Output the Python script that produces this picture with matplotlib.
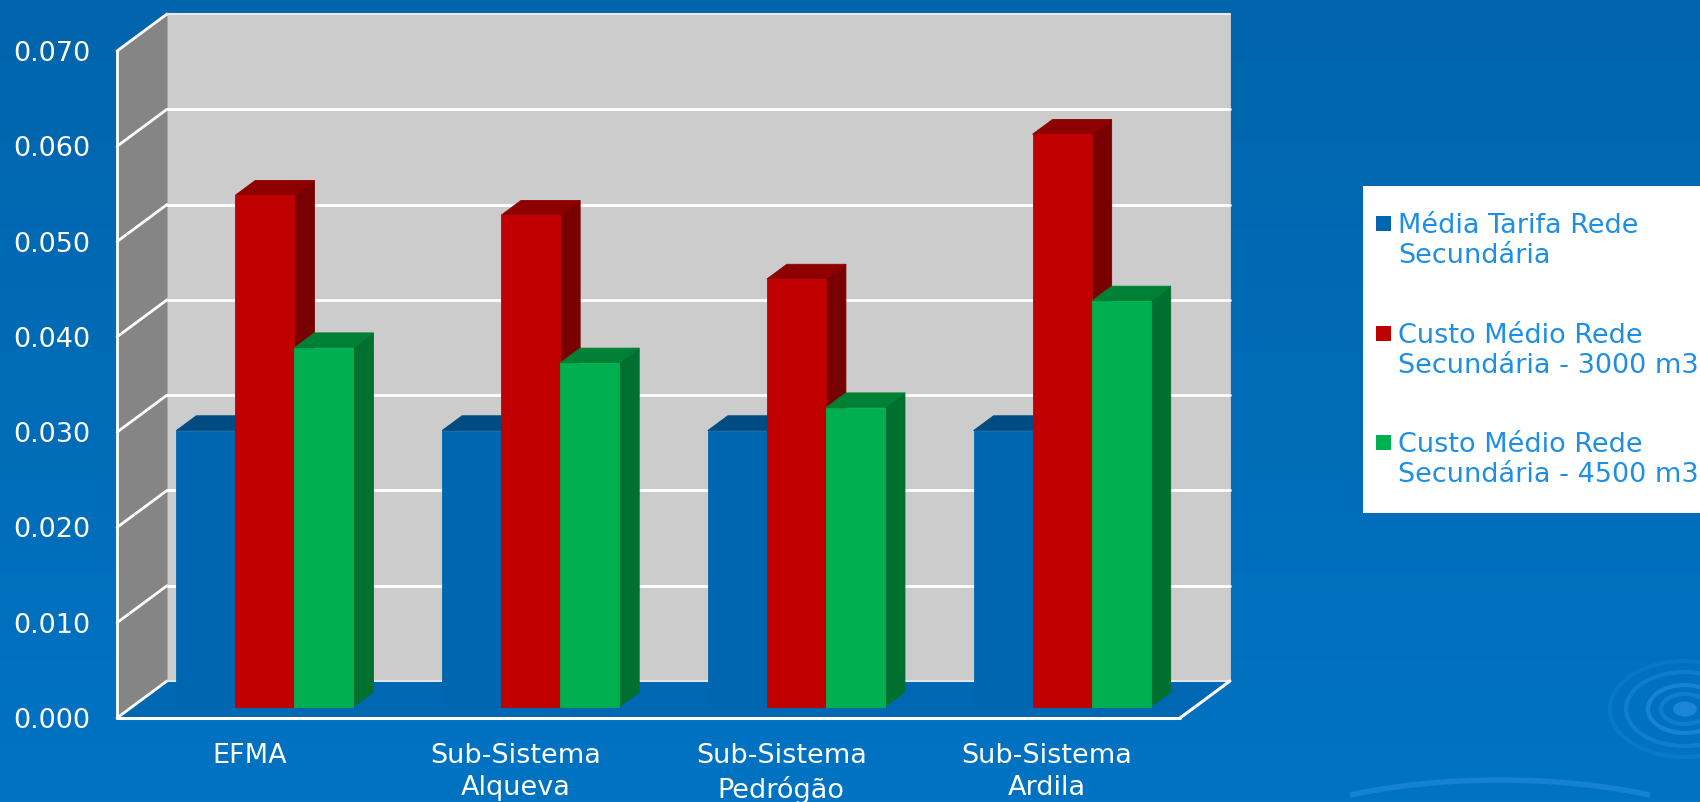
import numpy as np
import matplotlib
matplotlib.use("Agg")
import matplotlib.pyplot as plt
from matplotlib.patches import Rectangle, Polygon, Ellipse, Arc
from matplotlib.colors import LinearSegmentedColormap

# chart data
categories = ["EFMA", "Sub-Sistema\nAlqueva", "Sub-Sistema\nPedrógão", "Sub-Sistema\nArdila"]
series_names = ["Média Tarifa Rede\nSecundária",
                "Custo Médio Rede\nSecundária - 3000 m3",
                "Custo Médio Rede\nSecundária - 4500 m3"]
tarifa_media = [0.029, 0.029, 0.029, 0.029]
custo_3000 = [0.0537, 0.0516, 0.0449, 0.0601]
custo_4500 = [0.0377, 0.0361, 0.0314, 0.0426]
y_ticks = [0.0, 0.01, 0.02, 0.03, 0.04, 0.05, 0.06, 0.07]

series = [tarifa_media, custo_3000, custo_4500]
# front / top / side shades per series
shades = [("#0066B0", "#004C82", "#00457A"),
          ("#C00000", "#8E0000", "#780000"),
          ("#00B050", "#008034", "#007030")]

W, H = 1700, 802
FS = 19.5
fig = plt.figure(figsize=(W / 100, H / 100), dpi=100)

# blue slide background with a few ripples
bg = fig.add_axes([0, 0, 1, 1])
bg.set_axis_off()
grad = np.linspace(0, 1, 256).reshape(-1, 1)
cmap = LinearSegmentedColormap.from_list("bg", ["#0065AC", "#0073C3"])
bg.imshow(grad, aspect="auto", cmap=cmap, extent=[0, W, H, 0], origin="upper")
bg.set_xlim(0, W)
bg.set_ylim(H, 0)
ripple = "#2E95E6"
bg.add_patch(Ellipse((1685, 709), 24, 15, fc=ripple, ec="none", alpha=0.6))
for w, h, a in [(48, 30, 0.35), (74, 48, 0.5), (118, 74, 0.35), (150, 96, 0.2)]:
    bg.add_patch(Ellipse((1685, 709), w, h, fc="none", ec=ripple, lw=3, alpha=a))
bg.add_patch(Arc((1500, 900), 620, 240, theta1=215, theta2=325, ec=ripple, lw=4, alpha=0.45))

# main axes: x in category units, y in value units on the front plane
ax = fig.add_axes([117 / W, 84 / H, 1063 / W, 667 / H])
ax.set_xlim(0, 4)
ax.set_ylim(0, 0.07)
ax.patch.set_alpha(0)
for s in ax.spines.values():
    s.set_visible(False)

DX = 50 / 265.75          # depth shift in category units
DY = 37 / (667 / 0.07)    # depth shift in value units


def P(x, v, d):
    return (x + d * DX, v + d * DY)


def poly(pts, color, z):
    ax.add_patch(Polygon(pts, closed=True, fc=color, ec=color, lw=0.6,
                         zorder=z, clip_on=False))


def line(p, q, color="white", lw=2.0, z=2):
    ax.plot([p[0], q[0]], [p[1], q[1]], color=color, lw=lw, zorder=z,
            clip_on=False, solid_capstyle="round")


top = y_ticks[-1]
# walls and floor
poly([P(0, 0, 1), P(4, 0, 1), P(4, top, 1), P(0, top, 1)], "#CCCCCC", 1)
poly([P(0, 0, 0), P(0, top, 0), P(0, top, 1), P(0, 0, 1)], "#858585", 1)
poly([P(0, 0, 0), P(4, 0, 0), P(4, 0, 1), P(0, 0, 1)], "#0067B2", 1)

for t in y_ticks:
    line(P(0, t, 0), P(0, t, 1))
    if 0 < t < top:
        line(P(0, t, 1), P(4, t, 1))
line(P(0, top, 1), P(4, top, 1), color="#EAEAEA", lw=1.5)
line(P(0, 0, 1), P(4, 0, 1), color="#E6E6E6", lw=1.5)
line(P(0, 0, 0), P(0, top, 0), lw=2)
line(P(0, 0, 0), P(4, 0, 0), lw=2.2)
line(P(4, 0, 0), P(4, 0, 1), lw=2.2)

# 3D-looking clustered columns
bw = 1 / 4.5
d0, d1 = 0.3, 0.7
z = 3
for i in range(len(categories)):
    for j, vals in enumerate(series):
        v = vals[i]
        x0 = i + 0.75 * bw + j * bw
        x1 = x0 + bw
        front, topc, side = shades[j]
        poly([P(x1, 0, d0), P(x1, 0, d1), P(x1, v, d1), P(x1, v, d0)], side, z)
        poly([P(x0, v, d0), P(x1, v, d0), P(x1, v, d1), P(x0, v, d1)], topc, z + 0.1)
        poly([P(x0, 0, d0), P(x1, 0, d0), P(x1, v, d0), P(x0, v, d0)], front, z + 0.2)
        z += 1

ax.set_yticks(y_ticks)
ax.set_yticklabels([f"{t:.3f}" for t in y_ticks])
ax.set_xticks(np.arange(len(categories)) + 0.5)
ax.set_xticklabels(categories, linespacing=1.3)
ax.tick_params(axis="y", length=0, pad=19.4, labelsize=FS, labelcolor="white")
ax.tick_params(axis="x", length=0, pad=18, labelsize=FS, labelcolor="white")

# legend box
fig.patches.append(Rectangle((1363 / W, 1 - 513 / H), (W - 1363) / W + 0.01, 327 / H,
                             transform=fig.transFigure, fc="white", ec="none", zorder=5))
marker_tops = [216, 326, 435]
text_centers = [241, 351, 460]
for k, name in enumerate(series_names):
    fig.patches.append(Rectangle((1376 / W, 1 - (marker_tops[k] + 15) / H), 15 / W, 15 / H,
                                 transform=fig.transFigure, fc=shades[k][0], ec="none",
                                 zorder=6))
    fig.text(1398 / W, 1 - text_centers[k] / H, name, fontsize=FS, color="#1E8FE3",
             ha="left", va="center", linespacing=1.2, zorder=6)

fig.savefig("out.png", dpi=100)
